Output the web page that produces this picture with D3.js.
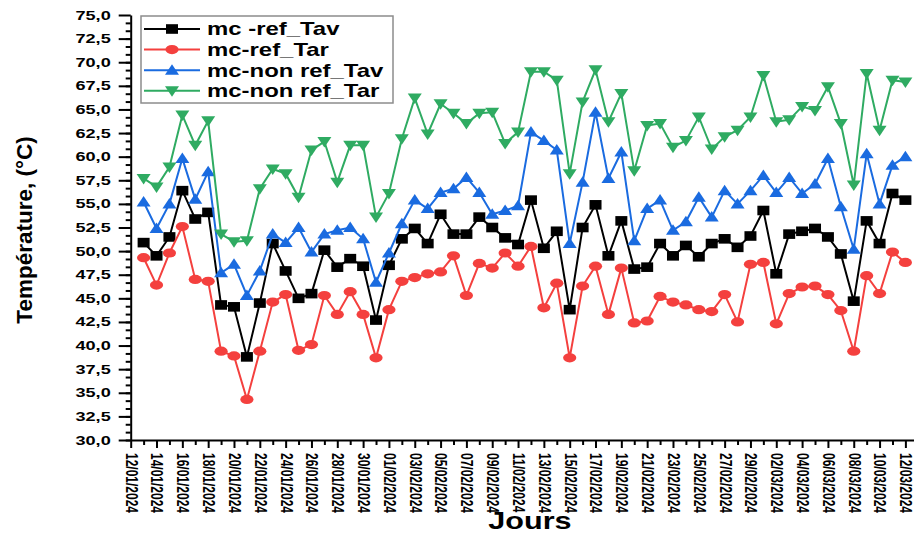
<!DOCTYPE html>
<meta charset="utf-8">
<style>
body { margin: 0; background: #fff; }
svg { font-family: "Liberation Sans", Arial, sans-serif; display: block; }
.axis path, .axis line { stroke: #000; stroke-width: 2px; }
.serie { fill: none; stroke-width: 2px; }
</style>
<body>
<svg width="914" height="533"></svg>
<script src="https://cdn.jsdelivr.net/npm/d3@7"></script>
<script>

// first measured day, then one value per day
var firstDay = "13/01/2024";

var xTickLabels = ["12/01/2024", "14/01/2024", "16/01/2024", "18/01/2024", "20/01/2024",
  "22/01/2024", "24/01/2024", "26/01/2024", "28/01/2024", "30/01/2024", "01/02/2024",
  "03/02/2024", "05/02/2024", "07/02/2024", "09/02/2024", "11/02/2024", "13/02/2024",
  "15/02/2024", "17/02/2024", "19/02/2024", "21/02/2024", "23/02/2024", "25/02/2024",
  "27/02/2024", "29/02/2024", "02/03/2024", "04/03/2024", "06/03/2024", "08/03/2024",
  "10/03/2024", "12/03/2024"];

var yTicks = [30, 32.5, 35, 37.5, 40, 42.5, 45, 47.5, 50, 52.5, 55, 57.5, 60, 62.5, 65, 67.5, 70, 72.5, 75];

var refTav = [50.9, 49.5, 51.5, 56.4, 53.4, 54.1, 44.3, 44.1, 38.8, 44.5,
  50.8, 47.9, 45.0, 45.5, 50.1, 48.3, 49.2, 48.4, 42.7, 48.5,
  51.3, 52.4, 50.8, 53.9, 51.8, 51.8, 53.6, 52.5, 51.4, 50.7,
  55.4, 50.3, 52.1, 43.8, 52.5, 54.9, 49.5, 53.2, 48.1, 48.3,
  50.8, 49.5, 50.6, 49.4, 50.8, 51.3, 50.4, 51.6, 54.3, 47.6,
  51.8, 52.1, 52.4, 51.5, 49.7, 44.7, 53.2, 50.8, 56.1, 55.4];

var refTar = [49.3, 46.4, 49.8, 52.6, 47.0, 46.8, 39.4, 38.9, 34.3, 39.4,
  44.6, 45.4, 39.5, 40.1, 45.3, 43.3, 45.7, 43.3, 38.7, 43.8,
  46.8, 47.2, 47.6, 47.8, 49.5, 45.3, 48.7, 48.2, 49.8, 48.4,
  50.5, 44.0, 46.6, 38.7, 46.3, 48.4, 43.3, 48.2, 42.4, 42.6,
  45.2, 44.6, 44.3, 43.8, 43.6, 45.4, 42.5, 48.6, 48.8, 42.3,
  45.5, 46.2, 46.3, 45.4, 43.7, 39.4, 47.4, 45.5, 49.9, 48.8];

var nonRefTav = [55.2, 52.4, 55.0, 59.8, 55.5, 58.4, 47.7, 48.6, 45.3, 47.9,
  51.8, 50.9, 52.5, 49.9, 51.8, 52.2, 52.5, 51.3, 46.7, 49.8,
  52.9, 55.4, 54.5, 56.2, 56.6, 57.8, 56.2, 53.9, 54.3, 54.8,
  62.6, 61.7, 60.7, 50.8, 57.3, 64.7, 57.7, 60.5, 51.1, 54.5,
  55.4, 52.2, 53.1, 55.7, 53.6, 56.4, 55.0, 56.4, 58.0, 56.2,
  57.8, 56.1, 57.1, 59.8, 54.7, 50.2, 60.3, 55.0, 59.1, 60.0];

var nonRefTar = [57.7, 56.8, 58.9, 64.4, 61.2, 63.8, 51.8, 51.0, 51.1, 56.6,
  58.7, 58.2, 55.7, 60.7, 61.6, 57.3, 61.2, 61.2, 53.6, 56.1,
  61.9, 66.2, 62.4, 65.6, 64.6, 63.5, 64.6, 64.7, 61.4, 62.6,
  69.0, 69.0, 68.1, 58.2, 65.8, 69.2, 63.7, 66.7, 58.5, 63.3,
  63.5, 61.0, 61.7, 64.2, 60.8, 62.1, 62.8, 64.2, 68.6, 63.7,
  63.9, 65.3, 64.9, 67.4, 63.5, 57.0, 68.8, 62.8, 68.1, 67.9];

var seriesNames = ["mc -ref_Tav", "mc-ref_Tar", "mc-non ref_Tav", "mc-non ref_Tar"];
var seriesColors = ["#000000", "#f4403e", "#1a6be0", "#2fab62"];
var seriesMarks = ["square", "circle", "up", "down"];
var seriesValues = [refTav, refTar, nonRefTav, nonRefTar];

var svg = d3.select("svg");
var parse = d3.utcParse("%d/%m/%Y");
var stretch = 1.33; // text in the picture is wider than tall

var x0 = parse(xTickLabels[0]);
var xEnd = d3.utcHour.offset(parse(xTickLabels[xTickLabels.length - 1]), 16);
var x = d3.scaleUtc().domain([x0, xEnd]).range([130.7, 914]);
var y = d3.scaleLinear().domain([30, 75]).range([440, 15]);

var start = parse(firstDay);
function dayOf(i) { return d3.utcDay.offset(start, i); }

// minor ticks
var minorX = d3.utcDay.range(x0, xEnd).filter(function(d, i) { return i % 2 == 1; });
svg.append("g").attr("class", "axis")
  .attr("transform", "translate(0,440)")
  .call(d3.axisBottom(x).tickValues(minorX).tickSize(5).tickFormat(""))
  .select(".domain").remove();

var minorY = d3.range(30, 75, 2.5 / 3);
svg.append("g").attr("class", "axis")
  .attr("transform", "translate(130.7,0)")
  .call(d3.axisLeft(y).tickValues(minorY).tickSize(5).tickFormat(""))
  .select(".domain").remove();

// x axis
var gx = svg.append("g").attr("class", "axis")
  .attr("transform", "translate(0,440)")
  .call(d3.axisBottom(x)
    .tickValues(xTickLabels.map(parse))
    .tickSize(8).tickSizeOuter(0)
    .tickFormat(function(d, i) { return xTickLabels[i]; }));

gx.selectAll("text")
  .attr("x", 13).attr("y", 0).attr("dy", "0.35em")
  .attr("text-anchor", "start")
  .attr("transform", "scale(" + stretch + ",1) rotate(90)")
  .style("font-size", "12px").style("font-weight", "bold").style("fill", "#000");

// y axis
var gy = svg.append("g").attr("class", "axis")
  .attr("transform", "translate(130.7,0)")
  .call(d3.axisLeft(y)
    .tickValues(yTicks)
    .tickSize(12).tickSizeOuter(0)
    .tickFormat(function(d) { return d3.format(".1f")(d).replace(".", ","); }));

gy.selectAll("text")
  .attr("x", -20 / 1.45)
  .attr("transform", "scale(1.45,1)")
  .style("font-size", "12.5px").style("font-weight", "bold").style("fill", "#000");

// titles
svg.append("text")
  .attr("transform", "translate(32,230) rotate(-90)")
  .attr("text-anchor", "middle")
  .style("font-size", "22.5px").style("font-weight", "bold")
  .text("Température, (°C)");

svg.append("text")
  .attr("transform", "translate(530,529) scale(" + stretch + ",1)")
  .attr("text-anchor", "middle")
  .style("font-size", "23px").style("font-weight", "bold")
  .text("Jours");

// markers
function marker(sel, type, color) {
  if (type == "square") {
    sel.append("rect").attr("x", -6).attr("y", -4.8).attr("width", 12).attr("height", 9.6).attr("fill", color);
  } else if (type == "circle") {
    sel.append("ellipse").attr("rx", 6.6).attr("ry", 4.6).attr("fill", color);
  } else if (type == "up") {
    sel.append("path").attr("d", "M0,-6L7,4.5L-7,4.5Z").attr("fill", color);
  } else {
    sel.append("path").attr("d", "M0,6L7,-4.5L-7,-4.5Z").attr("fill", color);
  }
}

var line = d3.line()
  .x(function(d, i) { return x(dayOf(i)); })
  .y(function(d) { return y(d); });

seriesValues.forEach(function(vals, k) {
  var g = svg.append("g");
  g.append("path").attr("class", "serie")
    .attr("d", line(vals))
    .attr("stroke", seriesColors[k]);
  g.selectAll("g.pt")
    .data(vals)
    .enter().append("g")
      .attr("class", "pt")
      .attr("transform", function(d, i) { return "translate(" + x(dayOf(i)) + "," + y(d) + ")"; })
      .each(function() { marker(d3.select(this), seriesMarks[k], seriesColors[k]); });
});

// legend
var lg = svg.append("g");
lg.append("rect")
  .attr("x", 141).attr("y", 16).attr("width", 252).attr("height", 87)
  .attr("fill", "#fff").attr("stroke", "#8c8c8c").attr("stroke-width", 1.5);

seriesNames.forEach(function(name, k) {
  var yy = 29 + k * 20.6;
  lg.append("line")
    .attr("x1", 144).attr("x2", 200).attr("y1", yy).attr("y2", yy)
    .attr("stroke", seriesColors[k]).attr("stroke-width", 2);
  marker(lg.append("g").attr("transform", "translate(172," + yy + ")"), seriesMarks[k], seriesColors[k]);
  lg.append("text")
    .attr("transform", "translate(207," + (yy + 6.3) + ") scale(" + stretch + ",1)")
    .style("font-size", "18px").style("font-weight", "bold")
    .text(name);
});

</script>
</body>
